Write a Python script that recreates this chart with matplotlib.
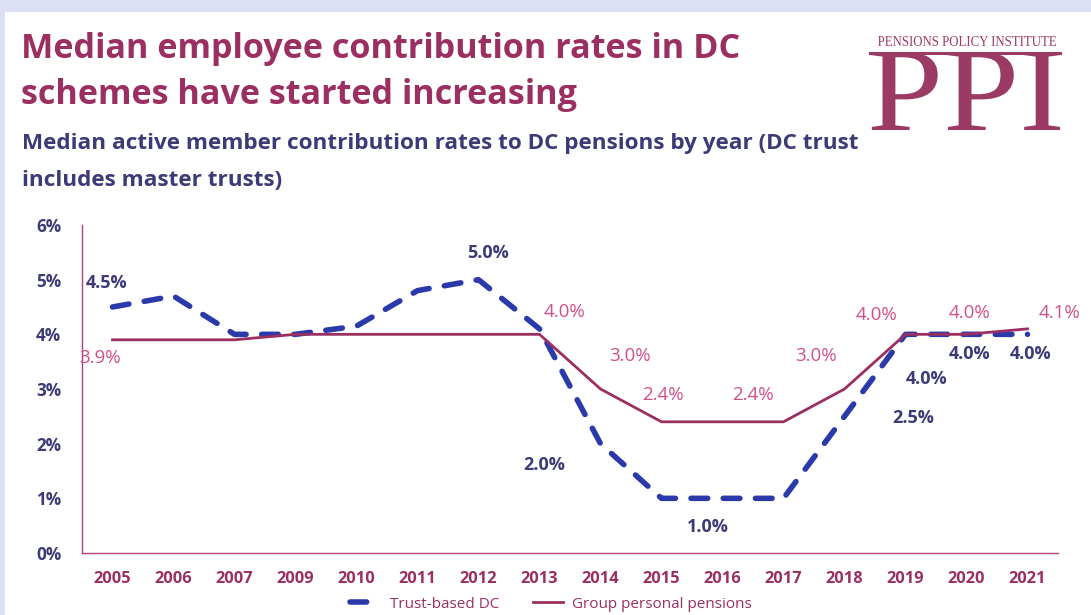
import matplotlib
matplotlib.use("Agg")
import matplotlib.pyplot as plt
from matplotlib.lines import Line2D
from matplotlib.patches import Rectangle, PathPatch
from matplotlib.textpath import TextPath
from matplotlib.font_manager import FontProperties
from matplotlib.transforms import Affine2D

# ---- data ----
years = ["2005", "2006", "2007", "2009", "2010", "2011", "2012", "2013",
         "2014", "2015", "2016", "2017", "2018", "2019", "2020", "2021"]
trust_dc = [4.5, 4.7, 4.0, 4.0, 4.15, 4.8, 5.0, 4.1,
            2.0, 1.0, 1.0, 1.0, 2.5, 4.0, 4.0, 4.0]
group_pp = [3.9, 3.9, 3.9, 4.0, 4.0, 4.0, 4.0, 4.0,
            3.0, 2.4, 2.4, 2.4, 3.0, 4.0, 4.0, 4.1]
y_ticks = [0, 1, 2, 3, 4, 5, 6]
y_tick_labels = ["0%", "1%", "2%", "3%", "4%", "5%", "6%"]

# labelled points (index into series) and pixel offsets
trust_label_idx = [0, 6, 8, 10, 12, 13, 14, 15]
trust_label_off = [(-6, 24), (10, 27), (-56, -21), (-15, -29), (69, -2),
                   (21, -45), (3, -20), (3, -20)]
group_label_idx = [0, 7, 8, 9, 11, 12, 13, 14, 15]
group_label_off = [(-13, -18), (25, 22), (30, 33), (1, 27), (-31, 27),
                   (-28, 33), (-29, 19), (3, 21), (32, 16)]

TITLE_C = "#9b2f62"
SUB_C = "#3d3a78"
BLUE = "#2b3aab"
MAROON = "#9b2f62"
PINK = "#d0508a"
BAND = "#dde0f5"
LOGO_C = "#9b3a65"

W, H = 1091, 615
plt.rcParams['font.family'] = ['Open Sans', 'DejaVu Sans']

fig = plt.figure(figsize=(W / 100, H / 100), dpi=100)
fig.patch.set_facecolor("white")

# lavender frame (top band and left strip)
fig.add_artist(Rectangle((0, 1 - 12 / H), 1, 12 / H, transform=fig.transFigure,
                         facecolor=BAND, edgecolor="none", zorder=0))
fig.add_artist(Rectangle((0, 0), 5 / W, 1, transform=fig.transFigure,
                         facecolor=BAND, edgecolor="none", zorder=0))

# titles
fig.text(21 / W, 1 - 49 / H, "Median employee contribution rates in DC",
         color=TITLE_C, fontsize=24.6, fontweight="bold", va="center", ha="left")
fig.text(21 / W, 1 - 95 / H, "schemes have started increasing",
         color=TITLE_C, fontsize=24.6, fontweight="bold", va="center", ha="left")
fig.text(22 / W, 1 - 144 / H,
         "Median active member contribution rates to DC pensions by year (DC trust",
         color=SUB_C, fontsize=16.2, fontweight="bold", va="center", ha="left")
fig.text(22 / W, 1 - 180 / H, "includes master trusts)",
         color=SUB_C, fontsize=16.2, fontweight="bold", va="center", ha="left")


# logo: text paths stretched to a pixel box (x0, y_top, width, height)
def logo_text(s, x0, ytop, w, h):
    tp = TextPath((0, 0), s, size=1, prop=FontProperties(family="Liberation Serif"))
    ext = tp.get_extents()
    tr = (Affine2D().translate(-ext.x0, -ext.y0)
          .scale(w / ext.width / W, h / ext.height / H)
          .translate(x0 / W, 1 - (ytop + h) / H))
    fig.add_artist(PathPatch(tp, transform=tr + fig.transFigure,
                             facecolor=LOGO_C, edgecolor="none", lw=0))


logo_text("PENSIONS POLICY INSTITUTE", 878, 36, 178, 10)
logo_text("PPI", 871, 52, 189, 78)
fig.add_artist(Line2D([870 / W, 1060 / W], [1 - 53 / H, 1 - 53 / H],
                      transform=fig.transFigure, color=LOGO_C, lw=2.2))

# chart
ax = fig.add_axes([82 / W, 1 - 553 / H, (1058 - 82) / W, (553 - 225) / H])
x = list(range(len(years)))
ax.plot(x, trust_dc, color=BLUE, lw=4, linestyle=(0, (3.0, 2.8)),
        dash_capstyle="round", label="Trust-based DC", zorder=3)
ax.plot(x, group_pp, color=MAROON, lw=2, label="Group personal pensions", zorder=4)

ax.set_xlim(-0.5, len(years) - 0.5)
ax.set_ylim(0, 6)
ax.set_xticks(x)
ax.set_xticklabels(years)
ax.set_yticks(y_ticks)
ax.set_yticklabels(y_tick_labels)
ax.tick_params(length=0)
ax.tick_params(axis="x", pad=13, labelsize=11.8, labelcolor=MAROON)
ax.tick_params(axis="y", pad=15, labelsize=12.3, labelcolor=SUB_C)
for lab in ax.get_xticklabels() + ax.get_yticklabels():
    lab.set_fontweight("bold")
for s in ["top", "right"]:
    ax.spines[s].set_visible(False)
for s in ["left", "bottom"]:
    ax.spines[s].set_color("#b0407a")
    ax.spines[s].set_linewidth(1)

for i, (dx, dy) in zip(trust_label_idx, trust_label_off):
    ax.annotate(f"{trust_dc[i]:.1f}%", xy=(i, trust_dc[i]), xytext=(dx, dy),
                textcoords="offset pixels", ha="center", va="center",
                color=SUB_C, fontsize=13, fontweight="bold", zorder=6)
for i, (dx, dy) in zip(group_label_idx, group_label_off):
    ax.annotate(f"{group_pp[i]:.1f}%", xy=(i, group_pp[i]), xytext=(dx, dy),
                textcoords="offset pixels", ha="center", va="center",
                color=PINK, fontsize=13.5, zorder=6)

leg = fig.legend(loc="center", bbox_to_anchor=(551 / W, 1 - 604 / H), ncol=2,
                 frameon=False, fontsize=11, handlelength=2.0, columnspacing=2.2,
                 handletextpad=0.6, borderpad=0)
for t in leg.get_texts():
    t.set_color(MAROON)

fig.savefig("out.png", dpi=100, facecolor="white")
